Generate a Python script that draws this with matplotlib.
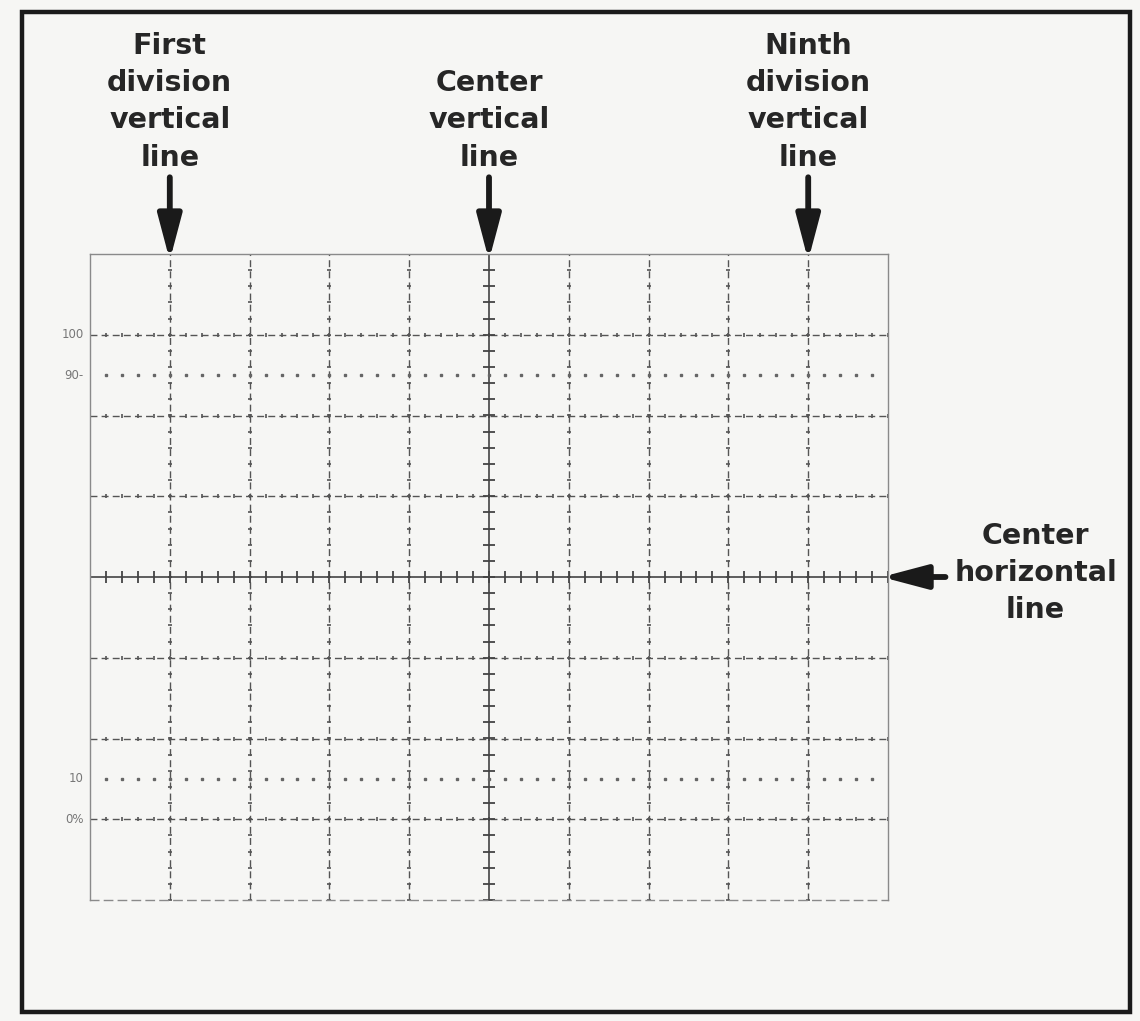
import numpy as np
import matplotlib
matplotlib.use("Agg")
import matplotlib.pyplot as plt
from matplotlib.patches import Rectangle

# ---- data ----
x_divisions = [1, 2, 3, 4, 5, 6, 7, 8, 9]          # vertical graticule lines
y_divisions = [-3, -2, -1, 0, 1, 2, 3]              # horizontal graticule lines
dotted_levels = [2.5, -2.5]                          # 90 % and 10 % lines
level_labels = ["100", "90-", "10", "0%"]
level_values = [3, 2.5, -2.5, -3]
annot_texts = ["First\ndivision\nvertical\nline",
               "Center\nvertical\nline",
               "Ninth\ndivision\nvertical\nline"]
annot_x = [1, 5, 9]
side_text = "Center\nhorizontal\nline"
minor_step = 0.2

W, H = 1140, 1021
fig = plt.figure(figsize=(W / 100, H / 100), dpi=100)
bg = "#f6f6f4"
fig.patch.set_facecolor(bg)

# outer frame
fig.patches.append(Rectangle((22 / W, 1 - 1012 / H), (1130 - 22) / W, (1012 - 12) / H,
                             transform=fig.transFigure, fill=False,
                             edgecolor="#1a1a1a", linewidth=3.2, zorder=5))

# graticule axes
left, right, top, bottom = 90, 888, 254, 900
ax = fig.add_axes([left / W, 1 - bottom / H, (right - left) / W, (bottom - top) / H])
ax.set_facecolor(bg)
ax.set_xlim(0, 10)
ax.set_ylim(-4, 4)
ax.set_xticks([])
ax.set_yticks([])
for s in ax.spines.values():
    s.set_color("#8a8a8a")
    s.set_linewidth(1.0)
ax.spines["bottom"].set_linestyle((0, (6, 4)))

grid_c = "#555555"
minor = np.arange(0, 10 + 1e-9, minor_step)
minor_y = np.arange(-4, 4 + 1e-9, minor_step)

for xv in x_divisions:
    if xv == 5:
        continue
    ax.plot([xv, xv], [-4, 4], color=grid_c, lw=1.0, ls=(0, (5, 3)))
    ax.plot(np.full_like(minor_y, xv), minor_y, ls="none", marker="_",
            ms=3, mew=1.2, color=grid_c)
for yv in y_divisions:
    if yv == 0:
        continue
    ax.plot([0, 10], [yv, yv], color=grid_c, lw=1.0, ls=(0, (5, 3)))
    ax.plot(minor, np.full_like(minor, yv), ls="none", marker="|",
            ms=3, mew=1.2, color=grid_c)

# center lines with larger ticks
ax.plot([5, 5], [-4, 4], color="#444444", lw=1.2)
ax.plot(np.full_like(minor_y, 5), minor_y, ls="none", marker="_", ms=9, mew=1.3, color="#444444")
ax.plot([0, 10], [0, 0], color="#444444", lw=1.2)
ax.plot(minor, np.zeros_like(minor), ls="none", marker="|", ms=9, mew=1.3, color="#444444")

# dotted 90 % and 10 % lines
for yv in dotted_levels:
    ax.plot(minor[1:-1], np.full(len(minor) - 2, yv), ls="none", marker="s",
            ms=1.8, color="#666666")

# level labels
for lab, v in zip(level_labels, level_values):
    ax.text(-0.08, v, lab, ha="right", va="center", fontsize=8.5, color="#777777")

# annotations
fs = 20.5
arrow_style = dict(arrowstyle="-|>,head_length=1.7,head_width=0.45",
                   lw=4.2, color="#1a1a1a", shrinkA=0, shrinkB=0,
                   mutation_scale=16)
for txt, xv in zip(annot_texts, annot_x):
    ax.annotate("", xy=(xv, 3.92), xytext=(xv, 4.95), arrowprops=arrow_style)
    ax.annotate(txt, xy=(xv, 5.02), xycoords="data", ha="center", va="bottom",
                fontsize=fs, fontweight="bold", color="#262626", linespacing=1.42,
                annotation_clip=False)

ax.annotate("", xy=(9.92, 0), xytext=(10.72, 0), arrowprops=arrow_style)
ax.annotate(side_text, xy=(11.85, 0.05), xycoords="data", ha="center", va="center",
            fontsize=fs, fontweight="bold", color="#262626", linespacing=1.42,
            annotation_clip=False)

fig.savefig("out.png", dpi=100, facecolor=bg)
